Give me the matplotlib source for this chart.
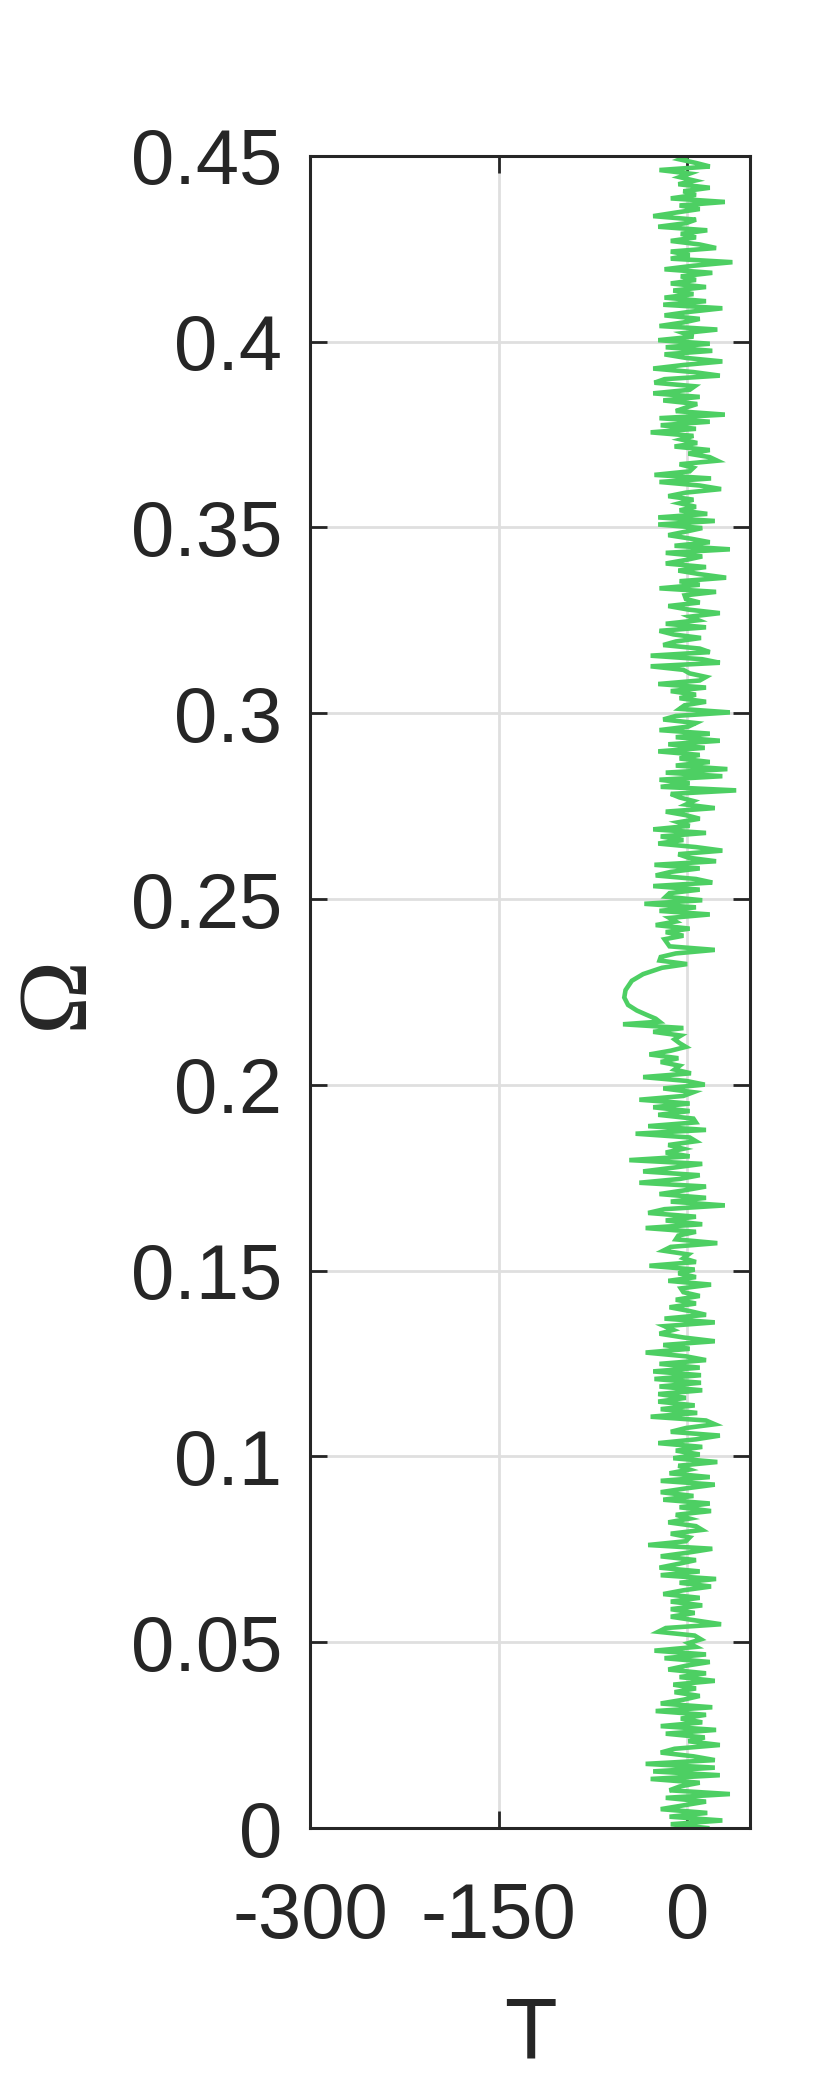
import numpy as np
import matplotlib
matplotlib.use("Agg")
import matplotlib.pyplot as plt

# T, top (Omega = 0.45) downwards
t_top = [
    1, -6, 7, 18, -22, 2, -6, 6, -7, 18, -3, 7, -13, 30, -6, 10, -9, -27, 7, -1,
    -23, 16, -5, 7, -13, 10, 23, -13, 2, -13, 36, 5, -18, 20, -5, 7, -13, 15, -11, 5,
    -18, 15, -19,
    28, 2, -18, 10, -3, -22, 24, -3, 5, -23, 18, -17, 20, -18, -1, 28, -3, -27, 5, 26,
    -18, -26, 6, 2, -27, 10, -19, 8, -1, -9, 30, -22, 18, -21, 7, -29, 5, -5, 8, -10, 18,
    1, 18, 24, -6, 5, 2, -26, 19, -22, 10, 27, -1, -15, 5, -6, 7, -6, 16, -23, 22,
    -23, 12, -1, -15, 3, 18, -10, 34, -17, 12, -1, -17, 15, -7, 10, 31, -6, 10,
    -22, 23, -2, -1, 10, -15, 1, 26, 2, 9, -17, 15, -22, -11, 11, -9, -19, 10, 18, -29,
    12, 26, -29, -3, 2, 15, 10, -23, 15, -13, 7, -6, 15, -2, -6, 34, -9, -19, 7,
    1, -22, 18, -9, 26, -15, 14, -23, 10, -6, 18, -9, 32, -17, 28, -22, 2, -21, 39, -13,
    -6, 5, -1, 22, -17, -1, 10, -7, 2, -27, 15, -21, -3, -23, 7, 28, -7, 1,
    23, -26, 10, -13, -25, 7, 20, -27, 10, -14, -17, 12, -34, 7, -22, 18, -14, -9, -25, 2,
    -17, -3, -18, -16, -14, 22, -9, -21, -22, 0,
]

# smooth dip around Omega ~ 0.22
omega_dip = [0.2315, 0.2298, 0.2280, 0.2255, 0.2235, 0.2215, 0.2200, 0.2188, 0.2178, 0.2170]
t_dip = [-20, -35, -44, -49, -50, -47, -40, -32, -25, -22]

t_bottom = [
    -51, -3, -27, -5, -10, -6, -1, -13, -30, -7, -21, -6, -10, 3, -35, -1, 14, -19, 5, -3,
    -38, 2, -27, 2, -23, 5, 7, -31, 15, -41, 2, 7, -15, -3,
    -17, 2, -46, 12, -11, -35, 10, -6, -38, 15, -2, -22, 15, -13, 30, -18, -31, 7, -17, 12,
    -33, 7, -7, -9, 24, -13, -19, 1, -3, 7, -30, 6, -7, 7, -15, 19, -5,
    -3, 10, -9, 7, -14, 2, 15, -18, 22, -18, -11, -22, -3, 22, -19, 2, -33, -1, 15, -22,
    10, -27, 11, -26, 11, -22, 12, -23, -1, -23, 6, -21, 8, -29, 15, 22, -1,
    -13, 26, 7, -23, 12, -9, 10, -11, 24, -7, 2, -14, 18, -21, 22, -1, -21, 5, -19, 18,
    -6, 19, -9, 2, -15, 7, 12, -13, 2, -1, -31, 20, 1, -21, 7, -7, -22, 10,
    -21, 23, -6, 19, -3, -19, 10, -13, 12, -13, 6, -13, 7, 27, -17, -23, 6, 11, 1, 7,
    -26, 15, -18, 18, -1, -15, 15, -6, 22, -11, 7, -10, 10, -3, -21, 20,
    -25, 15, -5, 12, -21, 23, -17, 14, 1, 26, -10, -21, 5, 22, -33, 22, -27, 26, -29, 10,
    -6, -14, 34, -17, 15, -3, -21, 16, -14, 28, -13, 16,
]

omega_top = np.linspace(0.45, 0.2325, len(t_top))
omega_bottom = np.linspace(0.2163, 0.0, len(t_bottom))

T = np.concatenate([t_top, t_dip, t_bottom])
omega = np.concatenate([omega_top, omega_dip, omega_bottom])

x_ticks = [-300, -150, 0]
x_tick_labels = ["-300", "-150", "0"]
y_ticks = [0, 0.05, 0.1, 0.15, 0.2, 0.25, 0.3, 0.35, 0.4, 0.45]
y_tick_labels = ["0", "0.05", "0.1", "0.15", "0.2", "0.25", "0.3", "0.35", "0.4", "0.45"]

dark = "#262626"
plt.rcParams["font.family"] = ["Liberation Sans", "DejaVu Sans"]

fig = plt.figure(figsize=(8.3, 20.78), dpi=100)
ax = fig.add_axes([0.3735, 0.1203, 0.5301, 0.8047])

ax.plot(T, omega, color="#4dcf63", lw=3.3, solid_joinstyle="miter")

ax.set_xlim(-300, 50)
ax.set_ylim(0, 0.45)
ax.set_xticks(x_ticks)
ax.set_xticklabels(x_tick_labels)
ax.set_yticks(y_ticks)
ax.set_yticklabels(y_tick_labels)

ax.grid(True, color="#dfdfdf", lw=2)
ax.set_axisbelow(True)
ax.tick_params(direction="in", length=12, width=2, colors=dark, labelsize=56,
               top=True, right=True)
ax.tick_params(axis="x", pad=38)
ax.tick_params(axis="y", pad=20)
for s in ax.spines.values():
    s.set_linewidth(2.2)
    s.set_color(dark)

ax.set_xlabel("T", fontsize=62, color=dark)
ax.xaxis.set_label_coords(0.5, -0.1)
ax.set_ylabel("Ω", fontsize=72, color=dark, family=["Liberation Serif", "DejaVu Serif"])
ax.yaxis.set_label_coords(-0.47, 0.5)

fig.savefig("out.png", dpi=100)
